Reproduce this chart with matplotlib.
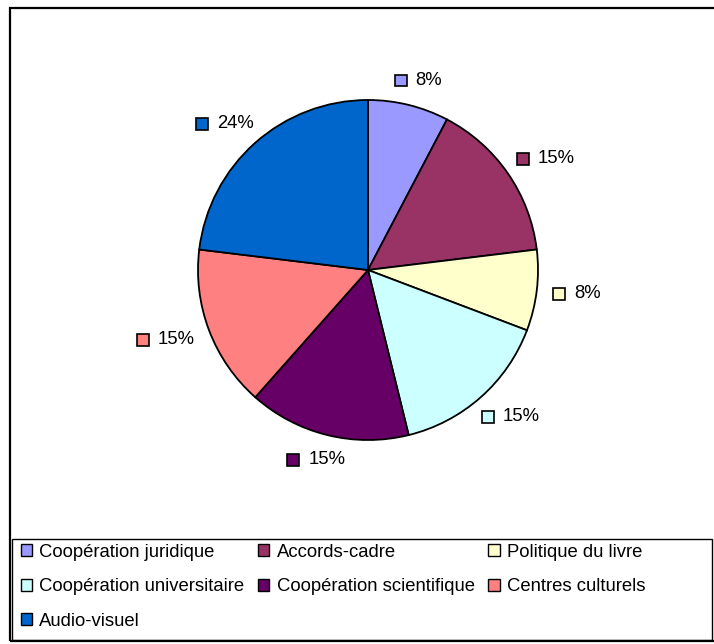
import numpy as np
import matplotlib
matplotlib.use("Agg")
import matplotlib.pyplot as plt
from matplotlib.patches import Rectangle, Patch
from matplotlib.offsetbox import HPacker, TextArea, DrawingArea, AnnotationBbox

plt.rcParams['font.family'] = ['Liberation Sans', 'DejaVu Sans']

# data
categories = ['Coopération juridique', 'Accords-cadre', 'Politique du livre',
              'Coopération universitaire', 'Coopération scientifique',
              'Centres culturels', 'Audio-visuel']
counts = [1, 2, 1, 2, 2, 2, 3]
pct_labels = ['8%', '15%', '8%', '15%', '15%', '15%', '24%']
colors = ['#9999FF', '#993366', '#FFFFCC', '#CCFFFF', '#660066', '#FF8080', '#0066CC']

W, H = 714, 644
fig = plt.figure(figsize=(W / 100, H / 100), dpi=100)

# pie centred at (368, 270) px, radius 170 px
lim = 1.4
size = 2 * lim * 170
ax = fig.add_axes([(368 - size / 2) / W, (H - 270 - size / 2) / H, size / W, size / H])
wedges, _ = ax.pie(counts, colors=colors, startangle=90, counterclock=False,
                   wedgeprops=dict(edgecolor='black', linewidth=1.3))
ax.set_xlim(-lim, lim)
ax.set_ylim(-lim, lim)
ax.set_aspect('equal')
ax.axis('off')

fs = 13.3

# percentage labels with small coloured square in front, outside end
for w, lab, col in zip(wedges, pct_labels, colors):
    mid = np.deg2rad((w.theta1 + w.theta2) / 2)
    c, s = np.cos(mid), np.sin(mid)
    pos = (1.1 * c, 1.1 * s)
    da = DrawingArea(9, 9, 0, 0)
    da.add_artist(Rectangle((0, 0), 8.5, 8.5, facecolor=col, edgecolor='black', linewidth=1.2))
    ta = TextArea(lab, textprops=dict(fontsize=fs, color='black'))
    box = HPacker(children=[da, ta], align='center', pad=0, sep=6)
    ab = AnnotationBbox(box, pos, frameon=False,
                        box_alignment=(0.5 - 0.5 * c, 0.5 - 0.5 * s))
    ax.add_artist(ab)

# outer chart border
fig.add_artist(Rectangle((10 / W, (H - 641) / H), (W + 10) / W, (641 - 8) / H,
                         transform=fig.transFigure, fill=False, edgecolor='black',
                         linewidth=1.6, clip_on=False))

# legend frame
fig.add_artist(Rectangle((12 / W, (H - 640) / H), (712 - 12) / W, (640 - 539) / H,
                         transform=fig.transFigure, fill=False, edgecolor='black',
                         linewidth=1.0, clip_on=False))

# legend, row-major order in 3 columns
order = [0, 3, 6, 1, 4, 2, 5]
handles = [Patch(facecolor=colors[i], edgecolor='black', linewidth=1.0) for i in order]
labels = [categories[i] for i in order]
fig.legend(handles, labels, ncol=3, loc='upper left',
           bbox_to_anchor=(17 / W, (H - 540) / H), frameon=False,
           fontsize=fs, handlelength=0.6, handleheight=0.6, handletextpad=0.4,
           columnspacing=0.75, labelspacing=0.95, borderpad=0.2, borderaxespad=0)

fig.savefig('out.png', dpi=100)
